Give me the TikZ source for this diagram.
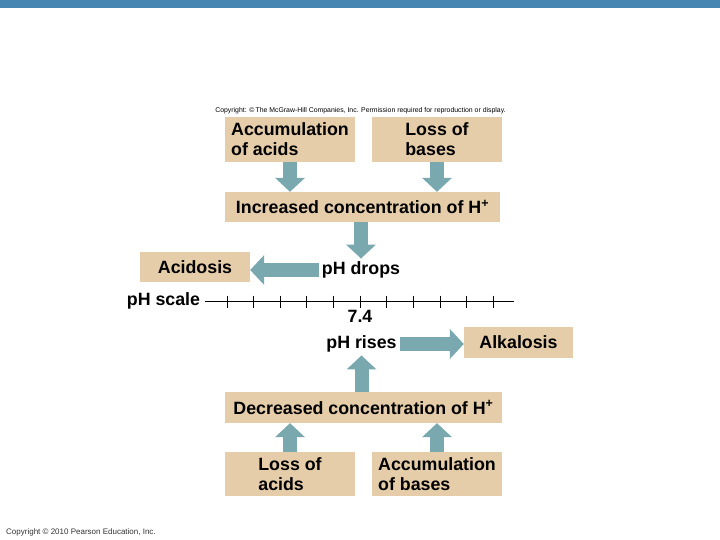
\documentclass[tikz,border=0pt]{standalone}
\usepackage{fontspec}
\setmainfont{Liberation Sans}
\usetikzlibrary{arrows.meta,positioning}
\definecolor{boxtan}{RGB}{230,205,170}
\definecolor{arrowteal}{RGB}{121,168,175}
\definecolor{topblue}{RGB}{70,134,178}

\begin{document}
\begin{tikzpicture}[x=1pt,y=-1pt,
 box/.style={fill=boxtan, inner sep=0pt, align=left, font=\fontsize{17.8}{20}\selectfont\bfseries},
 phlabel/.style={inner sep=3pt, font=\fontsize{17.8}{20}\selectfont\bfseries},
 fat/.style={draw=arrowteal, line width=14pt, -{Triangle[length=14pt,width=30pt,line width=0pt]}}
]
 \useasboundingbox (0,0) rectangle (720,540);
 \fill[topblue] (0,0) rectangle (720,8.5);

 \node[font=\fontsize{6.9}{8}\selectfont, inner sep=0pt] (mcgraw) at (360.5,111) {Copyright: \textcopyright\,The McGraw-Hill Companies, Inc. Permission required for reproduction or display.};

 % top half: acid side
 \node[box, minimum width=130pt, minimum height=45pt] (accacid) at (290,139.5) {Accumulation\\of acids};
 \node[box, minimum width=130pt, minimum height=45pt] (lossbase) at (437,139.5) {Loss of\\bases};
 \node[box, minimum width=275pt, minimum height=30pt] (incr) at (362.5,207) {Increased concentration of H\textsuperscript{+}};
 \node[phlabel] (drops) at (361,270) {pH drops};
 \node[box, minimum width=110pt, minimum height=30pt] (acidosis) at (195,267) {Acidosis};

 % the scale
 \node[phlabel] (scale) at (163.5,301) {pH scale};
 \coordinate (s0) at (205,301.5);
 \coordinate (s1) at (514,301.5);
 \draw[line width=0.9pt] (s0) -- (s1);
 \foreach \i in {0,...,10}
  \draw[line width=0.9pt] (227+\i*26.63,295.5) -- ++(0,12);
 \node[phlabel] (normal) at (360,316) {7.4};

 % bottom half: base side
 \node[phlabel] (rises) at (361.5,344) {pH rises};
 \node[box, minimum width=109pt, minimum height=31pt] (alkalosis) at (518.5,342.5) {Alkalosis};
 \node[box, minimum width=277pt, minimum height=31pt] (decr) at (363.5,407.5) {Decreased concentration of H\textsuperscript{+}};
 \node[box, minimum width=130pt, minimum height=44pt] (lossacid) at (290,474) {Loss of\\acids};
 \node[box, minimum width=130pt, minimum height=44pt] (accbase) at (437,474) {Accumulation\\of bases};

 \draw[fat] (accacid.south) -- (accacid.south |- incr.north);
 \draw[fat] (lossbase.south) -- (lossbase.south |- incr.north);
 \draw[fat] (drops.north |- incr.south) -- (drops.north);
 \draw[fat] (drops.west) -- (drops.west -| acidosis.east);
 \draw[fat] (rises.east) -- (rises.east -| alkalosis.west);
 \draw[fat] (rises.south |- decr.north) -- (rises.south);
 \draw[fat] (lossacid.north) -- (lossacid.north |- decr.south);
 \draw[fat] (accbase.north) -- (accbase.north |- decr.south);

 \node[anchor=west, inner sep=0pt, text=black!80, font=\fontsize{8}{9}\selectfont] (pearson) at (6,532) {Copyright \textcopyright\ 2010 Pearson Education, Inc.};
\end{tikzpicture}
\end{document}
